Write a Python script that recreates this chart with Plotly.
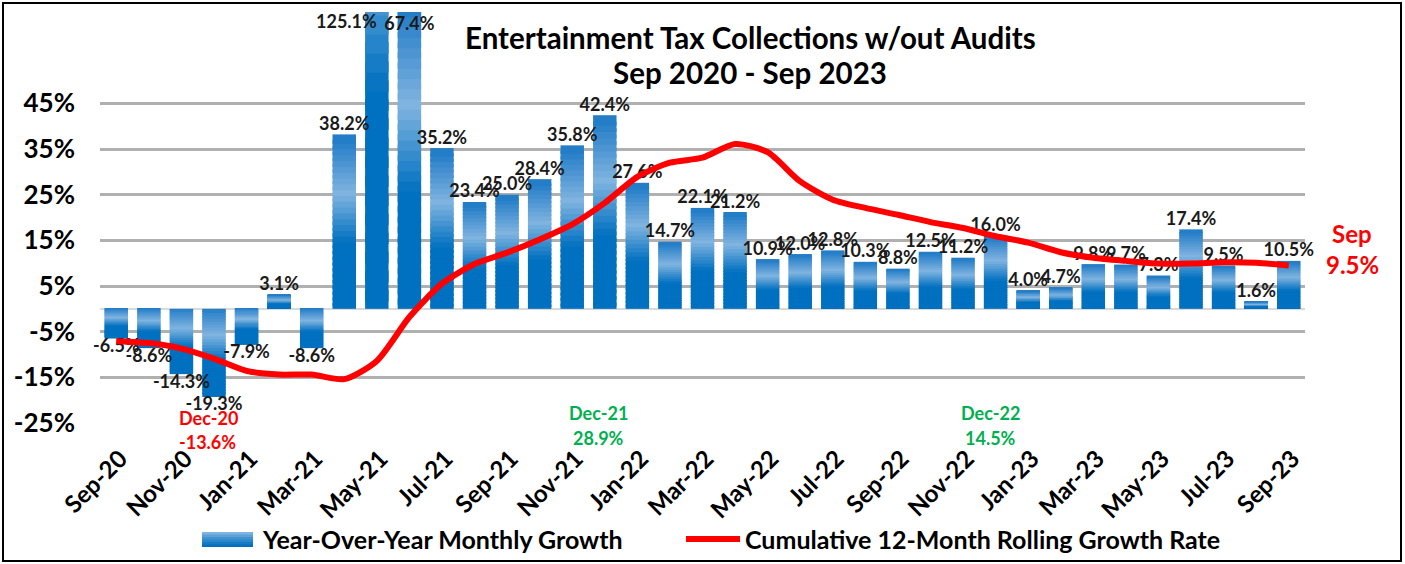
import numpy as np
import plotly.graph_objects as go

# ---- data -------------------------------------------------------------
months = [
    "Sep-20", "Oct-20", "Nov-20", "Dec-20", "Jan-21", "Feb-21", "Mar-21",
    "Apr-21", "May-21", "Jun-21", "Jul-21", "Aug-21", "Sep-21", "Oct-21",
    "Nov-21", "Dec-21", "Jan-22", "Feb-22", "Mar-22", "Apr-22", "May-22",
    "Jun-22", "Jul-22", "Aug-22", "Sep-22", "Oct-22", "Nov-22", "Dec-22",
    "Jan-23", "Feb-23", "Mar-23", "Apr-23", "May-23", "Jun-23", "Jul-23",
    "Aug-23", "Sep-23",
]

# Year-over-year monthly growth (%)
yoy_growth = [
    -6.5, -8.6, -14.3, -19.3, -7.9, 3.1, -8.6,
    38.2, 125.1, 67.4, 35.2, 23.4, 25.0, 28.4,
    35.8, 42.4, 27.6, 14.7, 22.1, 21.2, 10.9,
    12.0, 12.8, 10.3, 8.8, 12.5, 11.2, 16.0,
    4.0, 4.7, 9.8, 9.7, 7.3, 17.4, 9.5,
    1.6, 10.5,
]

# Cumulative 12-month rolling growth rate (%)
rolling_growth = [
    -7.1, -7.5, -8.7, -10.9, -13.6, -14.4, -14.4,
    -15.4, -11.4, -1.8, 5.5, 9.8, 12.3, 15.2,
    18.5, 23.2, 28.9, 32.0, 33.1, 36.1, 34.3,
    27.9, 23.9, 22.1, 20.6, 19.0, 17.7, 15.9,
    14.5, 12.4, 11.2, 10.5, 9.9, 9.9, 10.2,
    10.1, 9.5,
]

y_ticks = [45, 35, 25, 15, 5, -5, -15, -25]

# ---- geometry ----------------------------------------------------------
W, H = 1405, 564
ML, MR, MT, MB = 100, 100, 12, 141
PW, PH = W - ML - MR, H - MT - MB
Y_MIN, Y_MAX = -25, 65
LABEL_CAP = 60

FONT = "Lato, 'Open Sans', sans-serif"
DARK = np.array([0, 112, 192])
LIGHT = np.array([128, 180, 224])
TOPC = np.array([30, 122, 198])


def px_x(x):
    return (x - ML) / PW


def px_y(y):
    return (H - MB - y) / PH


def rgb(c):
    c = np.clip(np.round(c), 0, 255).astype(int)
    return f"rgb({c[0]},{c[1]},{c[2]})"


def shade(s):
    """Colour at fraction s measured from the top of a bar (0) to its bottom (1)."""
    if s < 0.32:
        w = s / 0.32
        return TOPC + (LIGHT - TOPC) * w
    if s < 0.60:
        w = (s - 0.32) / 0.28
        return LIGHT + (DARK - LIGHT) * w
    return DARK


def note(x_px, y_px, text, size, color, xanchor="center"):
    fig.add_annotation(x=px_x(x_px), y=px_y(y_px), xref="paper", yref="paper",
                       text=text, showarrow=False, xanchor=xanchor, yanchor="middle",
                       font=dict(family=FONT, size=size, color=color, weight="bold"))


fig = go.Figure()

# ---- gradient bars built from stacked, slightly overlapping bands -----------
vals = np.array(yoy_growth, dtype=float)
N_BANDS = 30
edges = np.linspace(0, 1, N_BANDS + 1)
overlap = 0.6 / N_BANDS
for i in range(N_BANDS):
    f0, f1 = edges[i], edges[i + 1]
    f0o = max(f0 - overlap, 0.0)
    fm = (f0 + f1) / 2
    colors = []
    for v in vals:
        s = 1 - fm if v >= 0 else fm
        colors.append(rgb(shade(s)))
    fig.add_trace(go.Bar(
        x=months, y=vals * (f1 - f0o), base=vals * f0o,
        marker=dict(color=colors, line=dict(width=0)),
        showlegend=False, hoverinfo="skip",
        name="Year-Over-Year Monthly Growth",
    ))

# ---- data labels --------------------------------------------------------
tallest = int(np.argmax(vals))
label_y = np.minimum(vals, LABEL_CAP)
label_pos = []
for i, v in enumerate(vals):
    if i == tallest:
        label_pos.append("middle left")
    elif v >= 0:
        label_pos.append("top center")
    else:
        label_pos.append("bottom center")
label_y[tallest] = LABEL_CAP + 2.5

fig.add_trace(go.Scatter(
    x=months, y=label_y, mode="text",
    text=[f"{v:.1f}%" for v in vals],
    textposition=label_pos,
    textfont=dict(family=FONT, size=18, color="#1a1a1a", weight="bold"),
    cliponaxis=False, showlegend=False, hoverinfo="skip",
))

# ---- rolling growth line --------------------------------------------------
fig.add_trace(go.Scatter(
    x=months, y=rolling_growth, mode="lines",
    line=dict(color="#ff0000", width=6, shape="spline", smoothing=0.7),
    name="Cumulative 12-Month Rolling Growth Rate",
    showlegend=False, hoverinfo="skip",
))

# ---- callouts -------------------------------------------------------------
note(208, 418, "Dec-20", 18, "#ff0000")
note(207, 442, f"{rolling_growth[4]:.1f}%", 18, "#ff0000")
note(598, 413, "Dec-21", 18, "#00b050")
note(598, 438, f"{rolling_growth[16]:.1f}%", 18, "#00b050")
note(990, 413, "Dec-22", 18, "#00b050")
note(990, 438, f"{rolling_growth[28]:.1f}%", 18, "#00b050")

note(1352, 233, "Sep", 24, "#ff0000")
note(1352, 264, f"{rolling_growth[-1]:.1f}%", 24, "#ff0000")

# ---- title ---------------------------------------------------------------
note(750, 37, "Entertainment Tax Collections w/out Audits", 29.5, "#000000")
note(750, 72, "Sep 2020 - Sep 2023", 29.5, "#000000")

# ---- legend --------------------------------------------------------------
shapes = []
ix0, ix1, iy0, iy1 = 202, 253, 532, 547
n_stripes = 6
for k in range(n_stripes):
    ya = iy0 + (iy1 - iy0) * k / n_stripes
    yb = iy0 + (iy1 - iy0) * (k + 1) / n_stripes + 0.5
    c = LIGHT + (DARK - LIGHT) * (k / (n_stripes - 1)) ** 0.8
    shapes.append(dict(type="rect", xref="paper", yref="paper",
                       x0=px_x(ix0), x1=px_x(ix1), y0=px_y(min(yb, iy1)), y1=px_y(ya),
                       fillcolor=rgb(c), line=dict(width=0), layer="above"))
note(260, 539, "Year-Over-Year Monthly Growth", 25, "#000000", xanchor="left")
shapes.append(dict(type="line", xref="paper", yref="paper",
                   x0=px_x(686), x1=px_x(740), y0=px_y(539), y1=px_y(539),
                   line=dict(color="#ff0000", width=6), layer="above"))
note(743, 539, "Cumulative 12-Month Rolling Growth Rate", 25, "#000000", xanchor="left")

# chart border
shapes.append(dict(type="rect", xref="paper", yref="paper",
                   x0=px_x(3), x1=px_x(1401), y0=px_y(561), y1=px_y(3),
                   line=dict(color="#000000", width=2), fillcolor="rgba(0,0,0,0)",
                   layer="above"))

fig.update_layout(
    width=W, height=H,
    margin=dict(l=ML, r=MR, t=MT, b=MB),
    paper_bgcolor="white", plot_bgcolor="white",
    barmode="overlay", bargap=0.28,
    shapes=shapes,
    showlegend=False,
    font=dict(family=FONT, color="#000000"),
    xaxis=dict(
        type="category", categoryorder="array", categoryarray=months,
        tickmode="array", tickvals=months[::2], ticktext=months[::2],
        tickangle=-45, showgrid=False, showline=False, ticks="",
        ticklabelstandoff=16, ticklabelshift=4,
        tickfont=dict(family=FONT, size=24, color="#000000", weight="bold"),
        range=[-0.5, len(months) - 0.5],
    ),
    yaxis=dict(
        range=[Y_MIN, Y_MAX], tickmode="array", tickvals=y_ticks,
        ticktext=[f"{t}%" for t in y_ticks],
        showgrid=True, gridcolor="#b0b0b0", gridwidth=2.5,
        zeroline=True, zerolinecolor="#d9d9d9", zerolinewidth=2,
        showline=False, ticks="", ticklabelstandoff=24,
        tickfont=dict(family=FONT, size=26, color="#000000", weight="bold"),
    ),
)

fig.write_html("out.html")
